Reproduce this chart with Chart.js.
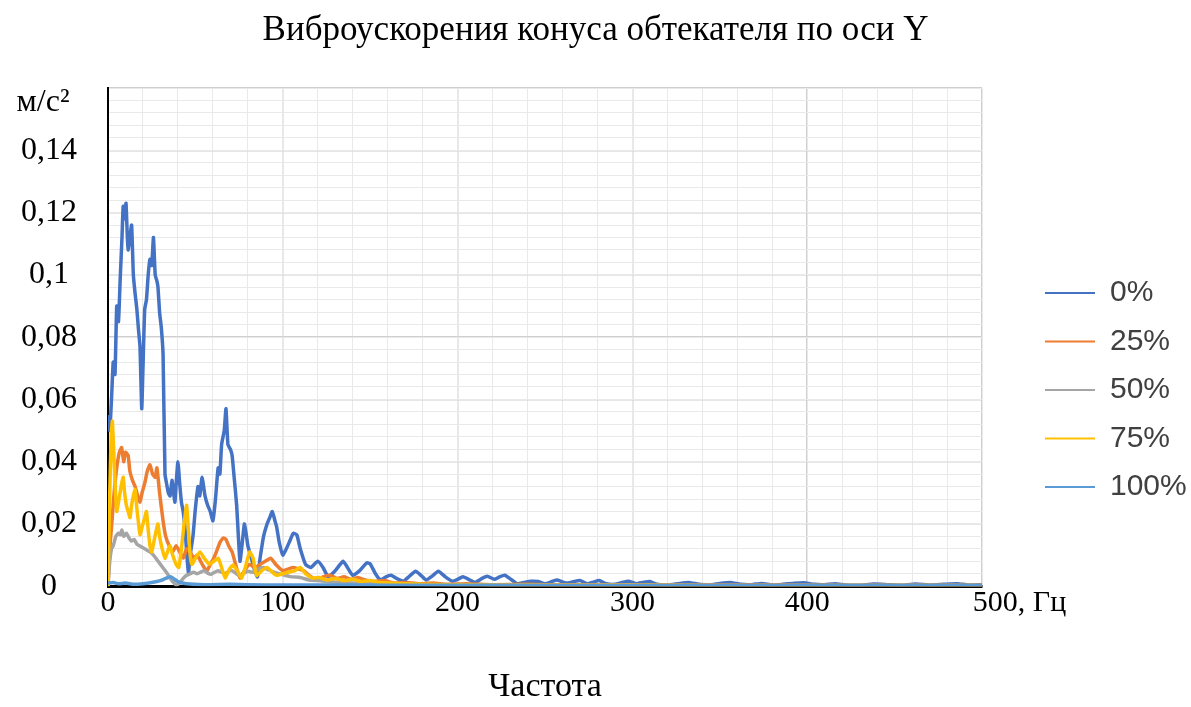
<!DOCTYPE html>
<html><head><meta charset="utf-8">
<script src="https://cdn.jsdelivr.net/npm/chart.js@4"></script>
<style>html,body{margin:0;padding:0;background:#fff}</style>
</head><body>
<canvas id="c" width="1191" height="707"></canvas>
<script>
const seriesNames = ['0%', '25%', '50%', '75%', '100%'];
const xTicks = [0, 100, 200, 300, 400, 500];
const yTicks = [0, 0.02, 0.04, 0.06, 0.08, 0.1, 0.12, 0.14];

// 0%
const f0 = [0,1,2,3,4,5,6,7,8,8.7,9.5,10.3,11,11.5,12.5,13.5,14.5,15.5,16.5,17.5,18.3,19.3,20,21,22,23,24,25,26,27,28,28.6,29.5,30.5,31.5,32.6,33.5,34.5,35.5,36.6,37.5,38.3,39,40,41,42,43,44,45,46,47,48.6,50,51.5,52.5,53.8,55.5,57,58.5,60,61.5,63,64,65,66.5,67.5,68.6,70,71,72,73.6,75.5,77,78,79,80,82,84,85.5,87,89,91,92.5,94,95.5,96.5,98,100,102,104,106,108,110,113,116,120,123,126,130,134.5,137,140,144,148,150,153,156,159,162,165,169,172,176,179,182,186,189,193,197,200,203,207,210,214,217,221,224,227,231,234,238,242,246,250,254,257,262,266,270,274,278,281,285,290,294,298,302,306,310,314,320,326,332,338,344,350,356,362,368,374,380,386,392,398,404,410,416,422,430,438,446,454,462,470,478,486,492,500];
const v0 = [0.055,0.05,0.06,0.072,0.068,0.09,0.085,0.099,0.112,0.122,0.118,0.123,0.113,0.108,0.112,0.116,0.1,0.094,0.089,0.082,0.077,0.057,0.07,0.089,0.092,0.1,0.105,0.103,0.112,0.1,0.098,0.096,0.088,0.083,0.0745,0.036,0.033,0.03,0.029,0.034,0.03,0.027,0.033,0.04,0.033,0.027,0.024,0.019,0.011,0.004,0.01,0.016,0.025,0.032,0.029,0.035,0.029,0.026,0.024,0.021,0.028,0.038,0.036,0.0455,0.05,0.057,0.0455,0.044,0.042,0.036,0.026,0.008,0.015,0.02,0.017,0.013,0.009,0.005,0.003,0.009,0.016,0.02,0.022,0.024,0.021,0.019,0.014,0.01,0.012,0.0145,0.017,0.0165,0.012,0.007,0.006,0.008,0.006,0.003,0.005,0.008,0.006,0.0035,0.005,0.0075,0.0072,0.004,0.002,0.003,0.0035,0.0025,0.0016,0.003,0.0048,0.0035,0.002,0.0035,0.0048,0.003,0.0016,0.0022,0.003,0.002,0.0012,0.0025,0.0032,0.0022,0.003,0.0035,0.002,0.0008,0.0012,0.0016,0.0015,0.0008,0.0015,0.002,0.001,0.0014,0.0018,0.0008,0.0014,0.0018,0.0008,0.0006,0.0012,0.0016,0.0008,0.0012,0.0015,0.0006,0.0004,0.0008,0.0012,0.0006,0.0004,0.0009,0.0012,0.0006,0.0005,0.0009,0.0004,0.0006,0.0009,0.0011,0.0006,0.0005,0.0008,0.0004,0.0003,0.0007,0.0005,0.0003,0.0007,0.0004,0.0006,0.0008,0.0004,0.0005];

// 25%
const f25 = [0,1,2.3,3.5,5,6.5,7.8,9,10,11.5,12.5,14,15.5,17,18.3,19.5,21,22.5,24,25.5,27,28,29.5,31.5,33,35,37,39,41,43,45,47,49,51,53,55,56.6,58.5,60.5,62,64,66,67.5,69,71,73,75.5,78,81,84,87,90,93,96,100,103,106,109,112,115,119,123,127,131,135,139,143,147,152,158,164,170,178,186,194,205,220,240,260,290,330,380,430,500];
const v25 = [0.0,0.012,0.021,0.03,0.038,0.043,0.0445,0.04,0.043,0.042,0.037,0.034,0.032,0.029,0.027,0.03,0.033,0.037,0.039,0.036,0.035,0.038,0.03,0.021,0.016,0.013,0.011,0.013,0.011,0.009,0.012,0.011,0.009,0.01,0.008,0.006,0.005,0.007,0.009,0.011,0.014,0.0155,0.015,0.013,0.011,0.007,0.0026,0.005,0.007,0.006,0.007,0.008,0.009,0.007,0.005,0.0055,0.006,0.0055,0.005,0.0035,0.002,0.003,0.0035,0.0025,0.003,0.0022,0.0028,0.002,0.0015,0.0018,0.001,0.0012,0.0008,0.001,0.0006,0.0008,0.0005,0.0006,0.0004,0.0004,0.0003,0.0003,0.0002,0.0002];

// 50%
const f50 = [0,1,2,3,4.5,6,7,8,9,10.5,12,13.5,15,16.5,18,19.5,21,22.5,24,26,28,30,32,34,35.5,37,39,41,43,45,47,49,51,53,55,57,59,61,63,65,67,69,71,73,75,77,80,83,86,89,92,95,98,101,105,110,115,120,125,132,140,150,165,180,200,240,300,400,500];
const v50 = [0.0,0.008,0.012,0.013,0.016,0.017,0.0165,0.018,0.016,0.017,0.0155,0.0145,0.015,0.0135,0.013,0.0125,0.012,0.0115,0.011,0.01,0.0085,0.007,0.0055,0.004,0.0026,0.0015,0.0003,0.001,0.0025,0.0035,0.004,0.0045,0.004,0.0045,0.005,0.0042,0.0038,0.0045,0.005,0.0045,0.004,0.0048,0.005,0.0042,0.0035,0.004,0.0048,0.0045,0.0055,0.006,0.0052,0.0045,0.004,0.0035,0.003,0.0028,0.002,0.0018,0.0015,0.0012,0.001,0.0008,0.0006,0.0005,0.0004,0.0003,0.0003,0.0002,0.0002];

// 75%
const f75 = [0,1,1.8,2.5,3.5,4.3,5,6,7.5,8.7,9.5,10.5,11.5,12.6,13.5,14.5,15.5,16.5,17.5,18.3,19.5,21,22,23,24,25,26.5,28,28.6,29.5,31,32.6,34,35.5,37,39,40.5,42,43.5,45,46,47,48,50,52.6,55,58,60.5,63,65,67,69,71.5,74,76.5,79,81,83,85,88,91,94,96.5,100,103,107,110,113,117,121,125,130,135,140,145,150,155,162,170,180,195,215,250,300,400,500];
const v75 = [0.0,0.03,0.048,0.053,0.04,0.03,0.024,0.027,0.032,0.035,0.03,0.026,0.024,0.022,0.026,0.029,0.031,0.025,0.02,0.0165,0.019,0.022,0.024,0.018,0.013,0.011,0.015,0.019,0.02,0.016,0.012,0.009,0.011,0.013,0.01,0.007,0.006,0.012,0.02,0.026,0.018,0.01,0.007,0.009,0.011,0.009,0.007,0.008,0.009,0.006,0.0026,0.005,0.0068,0.005,0.0026,0.007,0.011,0.009,0.0035,0.005,0.006,0.0045,0.0035,0.004,0.0045,0.005,0.006,0.004,0.0026,0.0028,0.002,0.0025,0.0018,0.0022,0.0015,0.0018,0.0012,0.001,0.0008,0.0006,0.0005,0.0004,0.0003,0.0003,0.0002,0.0002];

// 100%
const f100 = [0,3,6,10,15,20,25,30,33,36,40,45,55,70,90,120,160,220,300,400,500];
const v100 = [0.001,0.0012,0.0008,0.001,0.0006,0.0008,0.0012,0.0018,0.0025,0.003,0.0015,0.0008,0.0005,0.0006,0.0004,0.0004,0.0003,0.0003,0.0002,0.0002,0.0002];

const seriesFreqs = [f0, f25, f50, f75, f100];
const seriesValues = [v0, v25, v50, v75, v100];
const colors = ['#4472C4', '#ED7D31', '#A5A5A5', '#FFC000', '#5B9BD5'];

const datasets = seriesNames.map((name, i) => ({
  label: name,
  data: seriesFreqs[i].map((f, k) => ({x: f, y: seriesValues[i][k]})),
  borderColor: colors[i],
  backgroundColor: colors[i],
  borderWidth: 3.5,
  pointRadius: 0,
  tension: 0.15,
  order: seriesNames.length - 1 - i,
  xAxisID: 'x',
  yAxisID: 'y'
}));

const serif = 'Liberation Serif';

const unitLabel = {
  id: 'unitLabel',
  afterDraw(chart) {
    const ctx = chart.ctx, ys = chart.scales.y;
    ctx.save();
    ctx.fillStyle = '#000';
    ctx.font = '32px "' + serif + '"';
    ctx.textAlign = 'center';
    ctx.textBaseline = 'middle';
    ctx.fillText('м/с²', 43, ys.getPixelForValue(0.16) + 15);
    ctx.restore();
  }
};

new Chart(document.getElementById('c'), {
  type: 'line',
  data: { datasets },
  plugins: [unitLabel],
  options: {
    responsive: false,
    animation: false,
    devicePixelRatio: 1,
    layout: { padding: { left: 0, right: 0, top: 0, bottom: 0 } },
    plugins: {
      tooltip: { enabled: false },
      title: {
        display: true,
        text: 'Виброускорения конуса обтекателя по оси Y',
        color: '#000',
        font: { family: serif, size: 35, weight: 'normal' },
        padding: { top: 10, bottom: 36 }
      },
      legend: {
        position: 'right',
        align: 'center',
        maxWidth: 164.5,
        title: { display: true, text: ' ', font: { size: 10 }, padding: 30.5 },
        labels: {
          boxWidth: 50,
          boxHeight: 2,
          padding: 18.5,
          color: '#404040',
          font: { family: 'Liberation Sans', size: 30 },
          sort: (a, b) => a.datasetIndex - b.datasetIndex,
          generateLabels(chart) {
            const items = Chart.defaults.plugins.legend.labels.generateLabels(chart);
            items.forEach(it => { it.lineWidth = 0; it.fillStyle = it.strokeStyle; });
            return items;
          }
        }
      }
    },
    scales: {
      x: {
        type: 'linear', position: 'bottom', min: 0, max: 500,
        afterBuildTicks: s => { s.ticks = xTicks.map(v => ({value: v})); },
        ticks: {
          color: '#000', padding: -1, autoSkip: false, maxRotation: 0,
          font: { family: serif, size: 30 },
          callback: v => v === 500 ? ' '.repeat(10) + '500, Гц' : String(v)
        },
        grid: { color: '#cfcfcf', lineWidth: 1.5, drawTicks: false },
        border: { color: '#000', width: 3 },
        title: { display: true, text: 'Частота', color: '#000', font: { family: serif, size: 34 }, padding: { top: 46, bottom: 0 } }
      },
      xm: {
        type: 'linear', position: 'top', min: 0, max: 500,
        ticks: { display: false, stepSize: 20 },
        grid: { color: '#e9e9e9', lineWidth: 1, drawTicks: false },
        border: { display: false },
        afterFit: s => { s.height = 0; }
      },
      y: {
        type: 'linear', position: 'left', min: 0, max: 0.16,
        afterBuildTicks: s => { s.ticks = yTicks.concat([0.16]).map(v => ({value: v})); },
        afterFit: s => { s.width = 108; },
        ticks: {
          color: '#000', padding: 31, crossAlign: 'center',
          font: { family: serif, size: 32 },
          callback: v => { const r = Math.round(v * 100) / 100; return r >= 0.16 ? '' : String(r).replace('.', ','); }
        },
        grid: { color: '#cfcfcf', lineWidth: 1.5, drawTicks: false },
        border: { color: '#000', width: 2 }
      },
      ym: {
        type: 'linear', position: 'right', min: 0, max: 0.16,
        ticks: { display: false, stepSize: 0.004 },
        grid: { color: '#e9e9e9', lineWidth: 1, drawTicks: false },
        border: { display: false },
        afterFit: s => { s.width = 44.5; }
      }
    }
  }
});
</script>
</body></html>
